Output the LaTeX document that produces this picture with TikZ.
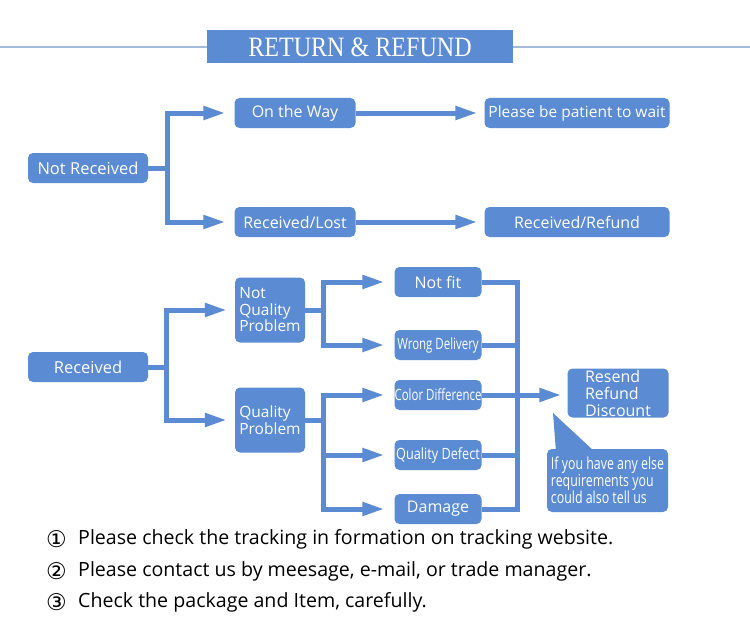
\documentclass[tikz,border=0pt]{standalone}
\usepackage{fontspec}
\usepackage{graphicx}
\setmainfont{Open Sans}
\newfontfamily\titlefont{Liberation Serif}
\newfontfamily\symfont{DejaVu Sans}
\usetikzlibrary{arrows.meta}
\definecolor{boxblue}{HTML}{5B8BD3}
\definecolor{lineblue}{HTML}{A3BBDD}
\newcommand{\narrow}[2][0.78]{\scalebox{#1}[1]{#2}}
\begin{document}
\begin{tikzpicture}[x=1pt,y=-1pt,
  box/.style={fill=boxblue, rounded corners=5pt, text=white, inner sep=0pt,
    font=\fontsize{15.5}{17}\selectfont, minimum height=30pt},
  conn/.style={draw=boxblue, line width=5pt},
  arr/.style={conn, -{Triangle[length=22pt,width=13pt]}},
  note/.style={anchor=west, inner sep=0pt, font=\fontsize{19.6}{22}\selectfont, text=black},
  num/.style={anchor=west, inner sep=0pt, font=\symfont\fontsize{23}{24}\selectfont, text=black}
]
\useasboundingbox (0,0) rectangle (750,618);
\fill[white] (0,0) rectangle (750,618);

% title
\node[fill=boxblue, minimum width=306pt, minimum height=33pt, inner sep=0pt, text=white] (title) at (360,47)
  {\scalebox{0.86}[1]{\titlefont\fontsize{28}{28}\selectfont RETURN \& REFUND}};
\coordinate (tl) at (0,47);
\coordinate (tr) at (750,47);
\draw[lineblue, line width=2pt] (tl) -- (title.west);
\draw[lineblue, line width=2pt] (title.east) -- (tr);

% not received part
\node[box, minimum width=120pt, font=\fontsize{16.5}{18}\selectfont] (nr) at (88,168) {Not Received};
\node[box, minimum width=121pt, font=\fontsize{16}{18}\selectfont] (ow) at (295,113) {On the Way};
\node[box, minimum width=121pt, font=\fontsize{16}{18}\selectfont] (rl) at (295,222) {Received/Lost};
\node[box, minimum width=185pt] (pw) at (577,113) {Please be patient to wait};
\node[box, minimum width=185pt, font=\fontsize{16}{18}\selectfont] (rr) at (577,222) {Received/Refund};

\coordinate (t1) at (167,168);
\draw[arr, shorten >=9pt] (nr.east) -- (t1) |- (ow.west);
\draw[arr, shorten >=9pt] (nr.east) -- (t1) |- (rl.west);
\draw[arr, shorten >=7pt] (ow.east) -- (pw.west);
\draw[arr, shorten >=7pt] (rl.east) -- (rr.west);

% received part
\node[box, minimum width=120pt, font=\fontsize{16.5}{18}\selectfont] (rc) at (88,367) {Received};
\node[box, minimum width=70pt, minimum height=65pt, align=left,
  font=\fontsize{15.5}{16.5}\selectfont] (nqp) at (270,310) {Not\\Quality\\Problem};
\node[box, minimum width=70pt, minimum height=65pt, align=left,
  font=\fontsize{15.5}{16.5}\selectfont] (qp) at (270,420) {Quality\\Problem};

\coordinate (t2) at (166,367);
\draw[arr, shorten >=8pt] (rc.east) -- (t2) |- (nqp.west);
\draw[arr, shorten >=8pt] (rc.east) -- (t2) |- (qp.west);

\node[box, minimum width=87pt, font=\fontsize{16}{18}\selectfont] (nf) at (438,282) {Not fit};
\node[box, minimum width=87pt] (wd) at (438,345) {\narrow[0.74]{Wrong Delivery}};
\node[box, minimum width=87pt] (cd) at (438,395) {\narrow[0.74]{Color Difference}};
\node[box, minimum width=87pt] (qd) at (438,455) {\narrow[0.82]{Quality Defect}};
\node[box, minimum width=87pt, font=\fontsize{16}{18}\selectfont] (dm) at (438,509) {Damage};

\coordinate (t3) at (323,310);
\coordinate (t3b) at (323,420);
\draw[arr, shorten >=10pt] (nqp.east) -- (t3) |- (nf.west);
\draw[arr, shorten >=10pt] (nqp.east) -- (t3) |- (wd.west);
\draw[arr, shorten >=10pt] (qp.east) -- (t3b) |- (cd.west);
\draw[arr, shorten >=10pt] (qp.east) -- (t3b) |- (qd.west);
\draw[arr, shorten >=10pt] (qp.east) -- (t3b) |- (dm.west);

\node[box, minimum width=101pt, minimum height=49pt, align=left,
  font=\fontsize{16}{17}\selectfont] (rs) at (618,393)
  {Resend\\Refund\\Discount};

\coordinate (t4) at (517,395);
\draw[conn] (nf.east) -| (t4);
\draw[conn] (dm.east) -| (t4);
\draw[conn] (wd.east) -- (wd.east -| t4);
\draw[conn] (qd.east) -- (qd.east -| t4);
\draw[arr, shorten >=6pt] (cd.east) -- (cd.east -| rs.west);

% callout
\fill[boxblue] (553,413) -- (556,452) -- (595,452) -- cycle;
\node[box, minimum width=121pt, minimum height=63pt, align=left,
  font=\fontsize{16.5}{16.8}\selectfont] (co) at (607.5,480.5)
  {\narrow[0.75]{If you have any else}\\\narrow[0.75]{requirements you}\\\narrow[0.75]{could also tell us}};

% notes
\node[num] (n1) at (46,539) {①};
\node[note] (l1) at (78,539) {Please check the tracking in formation on tracking website.};
\node[num] (n2) at (46,571) {②};
\node[note] (l2) at (78,571) {Please contact us by meesage, e-mail, or trade manager.};
\node[num] (n3) at (46,602) {③};
\node[note] (l3) at (78,602) {Check the package and Item, carefully.};
\end{tikzpicture}
\end{document}
